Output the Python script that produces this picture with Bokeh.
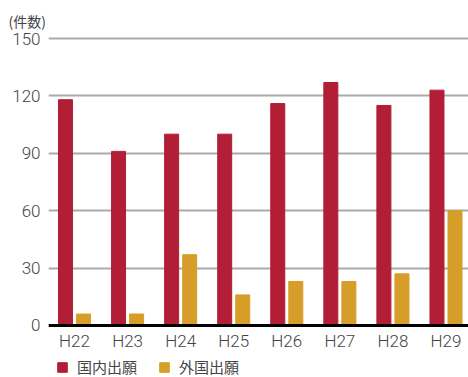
from bokeh.plotting import figure
from bokeh.layouts import column
from bokeh.models import ColumnDataSource, FixedTicker, Span, Legend, LegendItem, Range1d
from bokeh.transform import dodge
from bokeh.embed import file_html
from bokeh.resources import INLINE

categories = ["H22", "H23", "H24", "H25", "H26", "H27", "H28", "H29"]
domestic = [118, 91, 100, 100, 116, 127, 115, 123]
foreign = [6, 6, 37, 16, 23, 23, 27, 60]
series_names = ["国内出願", "外国出願"]
y_ticks = [0, 30, 60, 90, 120, 150]
unit_label = "(件数)"

RED = "#B21E35"
GOLD = "#D69E28"
TXT = "#444444"
NUM_FONT = "Roboto Light, Roboto"

src = ColumnDataSource(dict(x=list(range(len(categories))), dom=domestic, fgn=foreign))

p = figure(width=468, height=353, output_backend="svg", toolbar_location=None,
           x_range=Range1d(-0.49, 7.424), y_range=Range1d(-1.05, 151.05),
           min_border_left=48, min_border_right=0, min_border_top=36, min_border_bottom=26,
           outline_line_color=None, title=unit_label)
p.title.align = "left"
p.title.offset = -40
p.title.standoff = 12
p.title.text_font = "Noto Sans CJK JP"
p.title.text_font_size = "14px"
p.title.text_font_style = "normal"
p.title.text_color = TXT

p.vbar(x=dodge("x", -0.17), top="dom", width=0.264, source=src, color=RED)
p.vbar(x=dodge("x", 0.17), top="fgn", width=0.264, source=src, color=GOLD)

p.add_layout(Span(location=0, dimension="width", line_color="black", line_width=3))

p.xgrid.grid_line_color = None
p.ygrid.grid_line_color = "#aaaaaa"
p.ygrid.grid_line_width = 2
p.yaxis.ticker = FixedTicker(ticks=y_ticks)
p.xaxis.ticker = FixedTicker(ticks=list(range(len(categories))))
p.xaxis.major_label_overrides = {i: c for i, c in enumerate(categories)}

for ax in (p.xaxis[0], p.yaxis[0]):
    ax.axis_line_color = None
    ax.major_tick_line_color = None
    ax.minor_tick_line_color = None
    ax.major_tick_out = 0
    ax.major_tick_in = 0
    ax.major_label_text_font = NUM_FONT
    ax.major_label_text_font_size = "17px"
    ax.major_label_text_color = TXT
p.yaxis.major_label_standoff = 8
p.xaxis.major_label_standoff = 3

# legend strip below the chart
lg = figure(width=468, height=24, output_backend="svg", toolbar_location=None,
            x_range=Range1d(0, 1), y_range=Range1d(0, 1),
            min_border=0, outline_line_color=None)
lg.axis.visible = False
lg.grid.visible = False
offscreen = ColumnDataSource(dict(x=[-5], top=[-5]))
k1 = lg.vbar(x="x", top="top", width=0.1, source=offscreen, color=RED)
k2 = lg.vbar(x="x", top="top", width=0.1, source=offscreen, color=GOLD)
legend = Legend(items=[LegendItem(label=series_names[0], renderers=[k1]),
                       LegendItem(label=series_names[1], renderers=[k2])],
                orientation="horizontal", location=(8, 0),
                glyph_width=12, glyph_height=12, label_standoff=9, spacing=21,
                label_height=12,
                label_text_font="Noto Sans CJK JP", label_text_font_size="15px",
                label_text_color=TXT, border_line_color=None, background_fill_alpha=0,
                padding=0, margin=0)
lg.add_layout(legend, "center")

layout = column(p, lg, spacing=0)
open("out.html", "w").write(file_html(layout, INLINE))
